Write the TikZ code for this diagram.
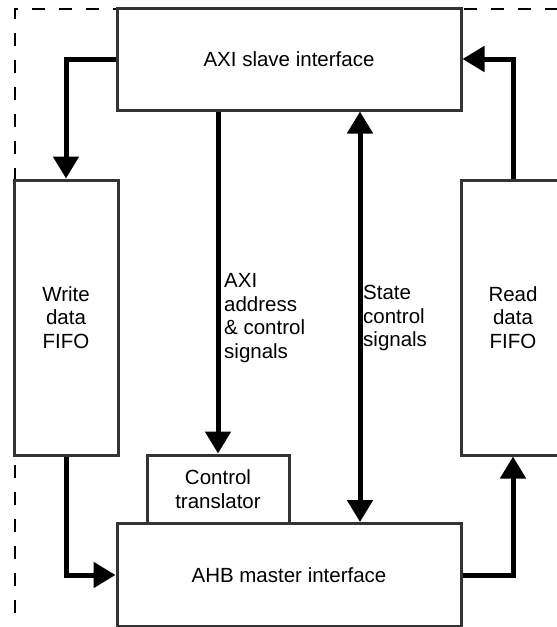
\documentclass[tikz,border=0pt]{standalone}
\usepackage{fontspec}
\setmainfont{Liberation Sans}
\usetikzlibrary{arrows.meta}
\tikzset{>={Triangle[length=22pt,width=25pt]}}
\definecolor{edge}{HTML}{333333}

\begin{document}
\begin{tikzpicture}[x=1pt, y=-1pt,
    font=\fontsize{20.5}{23.5}\selectfont,
    box/.style={draw=edge, line width=3pt, fill=white, inner sep=0pt},
    flow/.style={->, line width=5pt},
    tag/.style={align=left, inner sep=0pt, anchor=west}]
        \useasboundingbox (0, 0) rectangle (557, 627);
        \clip (0, 0) rectangle (557, 627);
        % border
        \draw[line width=2pt, dash pattern=on 13pt off 14pt] (15, 613) -- (15, 9) -- (570, 9);
        % node
        \node[box, minimum width=344pt, minimum height=102pt] (slave) at (289, 59) {AXI slave interface};
        \node[box, minimum width=104pt, minimum height=275pt, align=center] (wfifo) at (66, 317.5) {Write\\data\\FIFO};
        \node[box, minimum width=104pt, minimum height=275pt, align=center] (rfifo) at (513, 317.5) {Read\\data\\FIFO};
        \node[box, minimum width=142pt, minimum height=68pt, align=center] (ctrl) at (218, 489) {Control\\translator};
        \node[box, minimum width=344pt, minimum height=103pt] (ahb) at (289, 575) {AHB master interface};
        \node[tag] (axisig) at (224, 318) {AXI\\address\\\& control\\signals};
        \node[tag] (statesig) at (363, 318) {State\\control\\signals};
        \coordinate (st) at (360, 318);
        % lines
        \draw[flow] (slave.west) -| (wfifo.north);
        \draw[flow] (wfifo.south) |- (ahb.west);
        \draw[flow] (ahb.east) -| (rfifo.south);
        \draw[flow] (rfifo.north) |- (slave.east);
        \draw[flow] (ctrl.north |- slave.south) -- (ctrl.north);
        \draw[flow, <->] (st |- slave.south) -- (st |- ahb.north);
      \end{tikzpicture}
\end{document}
